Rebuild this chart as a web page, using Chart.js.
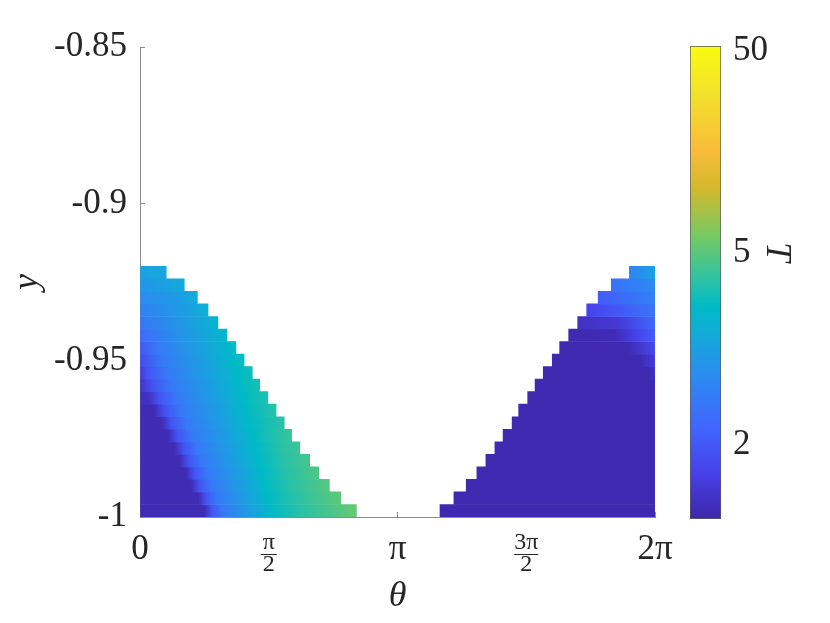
<!DOCTYPE html>
<html>
<head>
<meta charset="utf-8">
<script src="https://cdn.jsdelivr.net/npm/chart.js@4.4.1/dist/chart.umd.min.js"></script>
<style>
html, body { margin: 0; padding: 0; background: #fff; }
#wrap { position: relative; width: 830px; height: 623px; }
#main { position: absolute; left: 0; top: 0; }
#cbar { position: absolute; left: 690px; top: 0; }
</style>
</head>
<body>
<div id="wrap">
<canvas id="main" width="830" height="623"></canvas>
<canvas id="cbar" width="140" height="623"></canvas>
</div>
<script>
// rows of the grid, bottom to top (cell centres in y)
const rowY = [-0.998, -0.994, -0.990, -0.986, -0.982, -0.978, -0.974, -0.970, -0.966, -0.962,
              -0.958, -0.954, -0.950, -0.946, -0.942, -0.938, -0.934, -0.930, -0.926, -0.922];

// left patch: theta knots and T read along each row
const leftTheta = [
    [0, 0.78, 0.88, 1.00, 1.32, 1.61, 1.95, 2.64],
    [0, 0.71, 0.81, 0.94, 1.27, 1.56, 1.90, 2.45],
    [0, 0.62, 0.73, 0.88, 1.22, 1.53, 1.85, 2.31],
    [0, 0.56, 0.67, 0.82, 1.17, 1.49, 1.81, 2.18],
    [0, 0.48, 0.60, 0.76, 1.12, 1.45, 1.77, 2.07],
    [0, 0.42, 0.54, 0.70, 1.07, 1.42, 1.73, 1.95],
    [0, 0.34, 0.46, 0.63, 1.03, 1.38, 1.70, 1.85],
    [0, 0.26, 0.39, 0.57, 0.98, 1.34, 1.66, 1.76],
    [0, 0.17, 0.32, 0.51, 0.93, 1.31, 1.66],
    [0, 0.10, 0.24, 0.45, 0.88, 1.27, 1.56],
    [0, 0.17, 0.39, 0.83, 1.23, 1.46],
    [0, 0.10, 0.33, 0.78, 1.20, 1.37],
    [0, 0.27, 0.73, 1.16, 1.27],
    [0, 0.21, 0.68, 1.12, 1.17],
    [0, 0.15, 0.63, 1.06],
    [0, 0.59, 0.95],
    [0, 0.54, 0.83],
    [0, 0.49, 0.70],
    [0, 0.54],
    [0, 0.32]
];
const leftT = [
    [1.68, 1.68, 1.98, 2.32, 2.82, 3.58, 4.11, 5.31],
    [1.68, 1.68, 1.98, 2.32, 2.82, 3.58, 4.11, 5.13],
    [1.68, 1.68, 1.98, 2.32, 2.82, 3.58, 4.11, 4.96],
    [1.68, 1.68, 1.98, 2.32, 2.82, 3.58, 4.11, 4.80],
    [1.68, 1.68, 1.98, 2.32, 2.82, 3.58, 4.11, 4.65],
    [1.68, 1.68, 1.98, 2.32, 2.82, 3.58, 4.11, 4.51],
    [1.68, 1.68, 1.98, 2.32, 2.82, 3.58, 4.11, 4.37],
    [1.68, 1.68, 1.98, 2.32, 2.82, 3.58, 4.00, 4.24],
    [1.68, 1.68, 1.98, 2.32, 2.82, 3.58, 4.11],
    [1.70, 1.72, 1.98, 2.32, 2.82, 3.58, 4.00],
    [1.74, 1.98, 2.32, 2.82, 3.58, 3.88],
    [1.80, 1.98, 2.32, 2.82, 3.58, 3.78],
    [1.90, 2.32, 2.82, 3.58, 3.67],
    [2.01, 2.32, 2.82, 3.58, 3.67],
    [2.13, 2.32, 2.82, 3.48],
    [2.28, 2.82, 3.40],
    [2.40, 2.82, 3.23],
    [2.54, 2.82, 3.15],
    [2.70, 3.08],
    [2.88, 3.01]
];

// right patch
const rightTheta = [
    [3.66, 6.283], [3.83, 6.283], [3.98, 6.283], [4.11, 6.283], [4.22, 6.283],
    [4.33, 6.283], [4.43, 6.283], [4.54, 6.283], [4.62, 6.283], [4.73, 6.283],
    [4.82, 6.283],
    [4.92, 6.20, 6.283],
    [5.03, 6.10, 6.283],
    [5.12, 5.95, 6.283],
    [5.23, 5.80, 6.05, 6.283],
    [5.34, 5.82, 6.283],
    [5.45, 5.86, 6.283],
    [5.59, 6.283],
    [5.75, 6.283],
    [5.97, 6.283]
];
const rightT = [
    [1.67, 1.67], [1.67, 1.67], [1.67, 1.67], [1.67, 1.67], [1.67, 1.67],
    [1.67, 1.67], [1.67, 1.67], [1.67, 1.67], [1.67, 1.67], [1.67, 1.67],
    [1.67, 1.67],
    [1.67, 1.67, 1.72],
    [1.67, 1.67, 1.80],
    [1.67, 1.67, 1.90],
    [1.67, 1.68, 1.85, 2.04],
    [1.72, 1.78, 2.13],
    [1.85, 2.01, 2.28],
    [2.04, 2.40],
    [2.24, 2.54],
    [2.45, 2.88]
];

// axes
const xTickValues = [0, Math.PI / 2, Math.PI, 3 * Math.PI / 2, 2 * Math.PI];
const xTickLabels = ['0', ['π', '2'], 'π', ['3π', '2'], '2π'];
const yTickValues = [-1, -0.95, -0.9, -0.85];
const yTickLabels = ['-1', '-0.95', '-0.9', '-0.85'];

// colour bar: log axis in ln(T)
const cbarLnRange = [0.5, 4];
const cbarTickT = [2, 5, 50];
const cbarMinorLnT = [0.6, 0.8, 0.9, 1, 2, 3];

// parula-like colour map (position, r, g, b)
const parula = [
    [0.00, 62, 38, 168],
    [0.10, 71, 66, 234],
    [0.20, 64, 104, 254],
    [0.30, 44, 138, 242],
    [0.40, 16, 174, 214],
    [0.45, 0, 186, 198],
    [0.50, 40, 194, 168],
    [0.60, 118, 202, 98],
    [0.70, 212, 184, 44],
    [0.78, 250, 188, 58],
    [0.90, 242, 226, 44],
    [1.00, 249, 251, 16]
];

const serif = "'Liberation Serif', 'Times New Roman', serif";
const textColor = '#262626';
const axisColor = '#8c8c8c';

function colormap(lnT) {
    let s = Math.log(lnT / cbarLnRange[0]) / Math.log(cbarLnRange[1] / cbarLnRange[0]);
    s = Math.max(0, Math.min(1, s));
    for (let i = 1; i < parula.length; i++) {
        if (s <= parula[i][0]) {
            const a = parula[i - 1], b = parula[i];
            const f = (s - a[0]) / (b[0] - a[0]);
            const c = [1, 2, 3].map(j => Math.round(a[j] + f * (b[j] - a[j])));
            return `rgb(${c[0]},${c[1]},${c[2]})`;
        }
    }
    return 'rgb(249,251,16)';
}

function colorOfT(T) {
    return colormap(Math.log(T));
}

function rowFill(thetas, temps) {
    return function(context) {
        const chart = context.chart;
        if (!chart.chartArea || context.dataIndex === undefined) return 'transparent';
        const xs = chart.scales.x;
        const th = thetas[context.dataIndex], T = temps[context.dataIndex];
        const t0 = th[0], t1 = th[th.length - 1];
        const g = chart.ctx.createLinearGradient(xs.getPixelForValue(t0), 0, xs.getPixelForValue(t1), 0);
        th.forEach((t, k) => g.addColorStop((t - t0) / (t1 - t0), colorOfT(T[k])));
        return g;
    };
}

function patch(thetas, temps) {
    return {
        data: rowY.map((y, i) => ({ y: y, x: [thetas[i][0], thetas[i][thetas[i].length - 1]] })),
        backgroundColor: rowFill(thetas, temps),
        borderWidth: 0,
        barPercentage: 1,
        categoryPercentage: 1,
        grouped: false
    };
}

const fractionBars = {
    id: 'fractionBars',
    afterDraw(chart) {
        const xs = chart.scales.x;
        const c = chart.ctx;
        c.save();
        c.strokeStyle = textColor;
        c.lineWidth = 1;
        xTickValues.forEach((v, i) => {
            const lab = xTickLabels[i];
            if (!Array.isArray(lab)) return;
            const x = xs.getPixelForValue(v);
            const half = lab[0].length > 1 ? 12 : 8;
            const y = Math.round(xs.top + 37) + 0.5;
            c.beginPath();
            c.moveTo(x - half, y);
            c.lineTo(x + half, y);
            c.stroke();
        });
        c.restore();
    }
};

new Chart(document.getElementById('main'), {
    type: 'bar',
    data: { datasets: [patch(leftTheta, leftT), patch(rightTheta, rightT)] },
    plugins: [fractionBars],
    options: {
        indexAxis: 'y',
        responsive: false,
        animation: false,
        layout: { padding: { top: 47, right: 175, left: 0, bottom: 0 } },
        plugins: { legend: { display: false }, tooltip: { enabled: false } },
        scales: {
            x: {
                type: 'linear',
                position: 'bottom',
                min: 0,
                max: 2 * Math.PI,
                afterBuildTicks: s => { s.ticks = xTickValues.map(v => ({ value: v })); },
                afterFit: s => { s.height = 106; },
                grid: { drawOnChartArea: false, tickLength: -5, color: axisColor },
                border: { color: axisColor },
                ticks: {
                    autoSkip: false,
                    maxRotation: 0,
                    padding: 20,
                    color: textColor,
                    callback: (v, i) => xTickLabels[i],
                    font: ctx => Array.isArray(xTickLabels[ctx.index])
                        ? { family: serif, size: 24, lineHeight: '22px' }
                        : { family: serif, size: 35, lineHeight: 1 }
                },
                title: {
                    display: true,
                    text: 'θ',
                    color: textColor,
                    font: { family: serif, size: 36, style: 'italic', lineHeight: 1 },
                    padding: { top: 0, bottom: 8 }
                }
            },
            y: {
                type: 'linear',
                min: -1,
                max: -0.85,
                offset: false,
                afterBuildTicks: s => { s.ticks = yTickValues.map(v => ({ value: v })); },
                afterFit: s => { s.width = 140; },
                grid: { drawOnChartArea: false, offset: false, tickLength: -5, color: axisColor },
                border: { color: axisColor },
                ticks: {
                    autoSkip: false,
                    padding: 18,
                    color: textColor,
                    callback: (v, i) => yTickLabels[i],
                    font: { family: serif, size: 35, lineHeight: 1 }
                },
                title: {
                    display: true,
                    text: 'y',
                    color: textColor,
                    font: { family: serif, size: 36, style: 'italic', lineHeight: 1 },
                    padding: { top: 10, bottom: 0 }
                }
            }
        }
    }
});

// colour bar
const cbarTickItems = cbarTickT.map(t => ({ value: Math.log(t), label: String(t) }))
    .concat(cbarMinorLnT.map(v => ({ value: v, label: '' })));

function cbarFill(context) {
    const chart = context.chart;
    if (!chart.chartArea) return 'transparent';
    const ys = chart.scales.y;
    const g = chart.ctx.createLinearGradient(0, ys.getPixelForValue(cbarLnRange[0]), 0, ys.getPixelForValue(cbarLnRange[1]));
    parula.forEach(p => g.addColorStop(p[0], `rgb(${p[1]},${p[2]},${p[3]})`));
    return g;
}

const cbarLabel = {
    id: 'cbarLabel',
    afterDraw(chart) {
        const ys = chart.scales.y;
        const c = chart.ctx;
        c.save();
        c.translate(ys.left + 55, ys.top + 206);
        c.rotate(Math.PI / 2);
        c.font = `italic 35px ${serif}`;
        c.fillStyle = textColor;
        c.textAlign = 'center';
        c.textBaseline = 'middle';
        c.fillText('T', 0, 0);
        c.restore();
    }
};

new Chart(document.getElementById('cbar'), {
    type: 'bar',
    data: {
        labels: [''],
        datasets: [{
            data: [cbarLnRange],
            backgroundColor: cbarFill,
            borderColor: '#5a5a5a',
            borderWidth: 1,
            borderSkipped: false,
            barPercentage: 1,
            categoryPercentage: 1
        }]
    },
    plugins: [cbarLabel],
    options: {
        responsive: false,
        animation: false,
        layout: { padding: { top: 46, bottom: 104, left: 0, right: 0 } },
        plugins: { legend: { display: false }, tooltip: { enabled: false } },
        scales: {
            x: { display: false },
            y: {
                type: 'logarithmic',
                position: 'right',
                min: cbarLnRange[0],
                max: cbarLnRange[1],
                z: 1,
                afterBuildTicks: s => { s.ticks = cbarTickItems.map(o => ({ value: o.value })); },
                afterFit: s => { s.width = 109; },
                grid: { drawOnChartArea: false, tickLength: -5, color: '#333' },
                border: { display: false },
                ticks: {
                    autoSkip: false,
                    padding: 17,
                    color: textColor,
                    callback: (v, i) => cbarTickItems[i].label,
                    font: { family: serif, size: 35, lineHeight: 1 }
                }
            }
        }
    }
});
</script>
</body>
</html>
